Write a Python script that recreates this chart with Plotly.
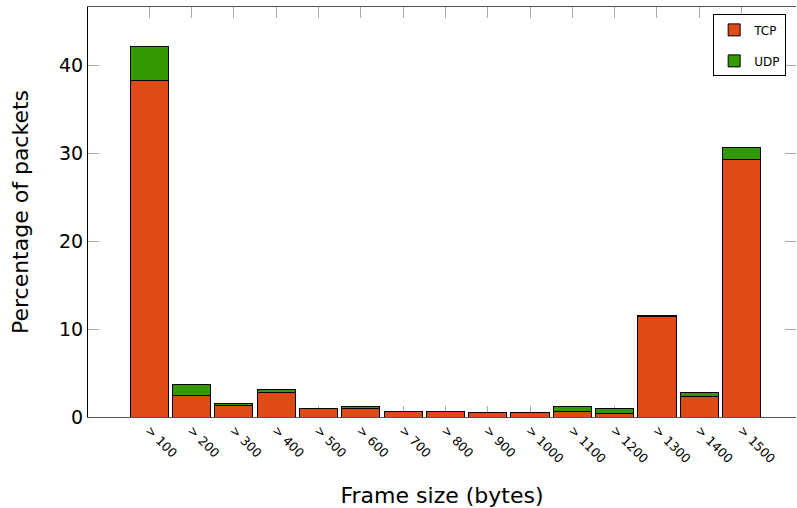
import plotly.graph_objects as go

categories = ["> 100", "> 200", "> 300", "> 400", "> 500", "> 600", "> 700", "> 800",
              "> 900", "> 1000", "> 1100", "> 1200", "> 1300", "> 1400", "> 1500"]
tcp = [38.34, 2.49, 1.28, 2.83, 0.95, 0.92, 0.62, 0.58, 0.52, 0.52, 0.64, 0.45, 11.45, 2.35, 29.27]
udp = [3.89, 1.25, 0.31, 0.28, 0.03, 0.26, 0.02, 0.06, 0.01, 0.01, 0.56, 0.57, 0.07, 0.45, 1.43]

TCP_COLOR = "#DF4B17"
UDP_COLOR = "#339900"
FONT = "DejaVu Sans"

fig = go.Figure()
fig.add_trace(go.Bar(x=categories, y=tcp, name="TCP", legendgroup="tcp",
                     marker=dict(color=TCP_COLOR, line=dict(color="black", width=1))))
fig.add_trace(go.Bar(x=categories, y=udp, name="UDP", legendgroup="udp",
                     marker=dict(color=UDP_COLOR, line=dict(color="black", width=1))))
# invisible trace for right-side mirrored ticks
fig.add_trace(go.Scatter(x=[categories[0]], y=[0], yaxis="y2", mode="markers", marker=dict(opacity=0),
                         showlegend=False, hoverinfo="skip"))

fig.update_layout(
    width=797, height=508,
    barmode="stack", bargap=0.1,
    margin=dict(l=88, r=1, t=7, b=91),
    plot_bgcolor="white", paper_bgcolor="white",
    font=dict(family=FONT, color="black"),
    legend=dict(x=0.883, y=0.982, xanchor="left", yanchor="top", traceorder="grouped",
                tracegroupgap=12,
                bordercolor="black", borderwidth=1, bgcolor="white",
                font=dict(size=12, family=FONT), itemwidth=30),
    xaxis=dict(
        range=[-1.445, 15.285], showgrid=False, automargin=False,
        showline=True, linecolor="#555", linewidth=1, mirror="ticks",
        ticks="inside", ticklen=11, tickcolor="#aaa", tickwidth=1,
        tickangle=45, tickfont=dict(size=12.5, family=FONT),
        title=dict(text="Frame size (bytes)", font=dict(size=22, family=FONT), standoff=22),
        layer="below traces",
    ),
    yaxis=dict(
        range=[0, 46.67], showgrid=False, zeroline=False, automargin=False,
        showline=True, linecolor="black", linewidth=1,
        ticks="inside", ticklen=11, tickcolor="#aaa", tickwidth=1,
        tickvals=[0, 10, 20, 30, 40], tickfont=dict(size=19, family=FONT),
        title=dict(text="Percentage of packets", font=dict(size=22, family=FONT), standoff=24),
        layer="below traces",
    ),
    yaxis2=dict(
        overlaying="y", side="right", range=[0, 46.67], showgrid=False, zeroline=False,
        automargin=False,
        showline=False, ticks="inside", ticklen=11, tickcolor="#aaa", tickwidth=1,
        tickvals=[0, 10, 20, 30, 40], showticklabels=False, layer="below traces",
    ),
)

fig.write_html("out.html", config={"displayModeBar": False},
               post_script="document.body.style.margin='0';")
